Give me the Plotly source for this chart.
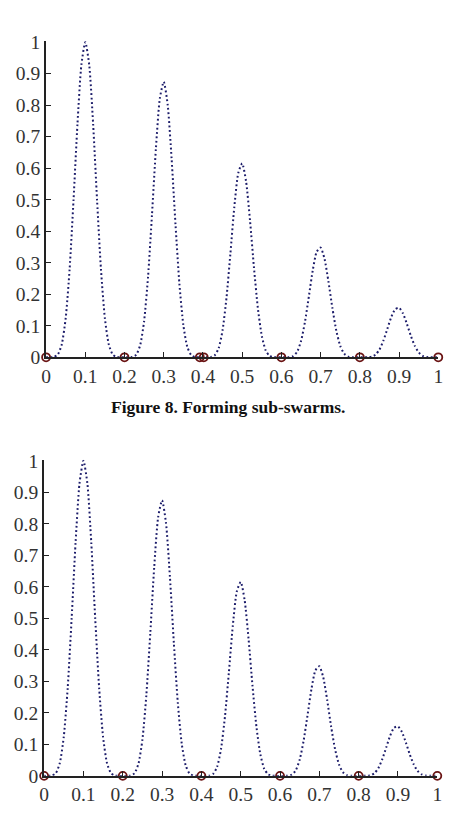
import plotly.graph_objects as go

# x samples (step 0.01) and curve values
x_vals = [round(i * 0.01, 2) for i in range(101)]
y_vals = [
    0.0, 0.0, 0.0009, 0.0088, 0.041, 0.124, 0.279, 0.499, 0.740, 0.928,
    1.000, 0.928, 0.739, 0.498, 0.278, 0.123, 0.040, 0.0085, 0.0008, 0.0,
    0.0, 0.0, 0.0008, 0.0083, 0.0387, 0.115, 0.256, 0.452, 0.662, 0.821,
    0.874, 0.802, 0.631, 0.421, 0.232, 0.102, 0.0332, 0.0070, 0.0007, 0.0,
    0.0, 0.0, 0.0006, 0.0063, 0.0289, 0.086, 0.1889, 0.3298, 0.4774, 0.5847,
    0.615, 0.5573, 0.4337, 0.2853, 0.1558, 0.0677, 0.0217, 0.0045, 0.0004, 0.0,
    0.0, 0.0, 0.0004, 0.0038, 0.0175, 0.0514, 0.1117, 0.1929, 0.2763, 0.3347,
    0.348, 0.3121, 0.2400, 0.1562, 0.0844, 0.0362, 0.0115, 0.0024, 0.0002, 0.0,
    0.0, 0.0, 0.0002, 0.0019, 0.0084, 0.0245, 0.0527, 0.0899, 0.1273, 0.1526,
    0.157, 0.1392, 0.1060, 0.0682, 0.0364, 0.0155, 0.0049, 0.0010, 0.0001, 0.0,
    0.0,
]

# particle positions (sub-swarm centres) on the x axis
swarm_top_x = [0.0, 0.2, 0.392, 0.402, 0.6, 0.8, 1.0]
swarm_top_y = [0, 0, 0, 0, 0, 0, 0]
swarm_bot_x = [0.0, 0.2, 0.4, 0.6, 0.8, 1.0]
swarm_bot_y = [0, 0, 0, 0, 0, 0]

tick_vals = [0, 0.1, 0.2, 0.3, 0.4, 0.5, 0.6, 0.7, 0.8, 0.9, 1.0]
tick_text = ["0", "0.1", "0.2", "0.3", "0.4", "0.5", "0.6", "0.7", "0.8", "0.9", "1"]

caption = "Figure 8. Forming sub-swarms."

curve_color = "#1c1c6a"
ring_color = "#6a1414"
serif = "'Liberation Serif', 'Times New Roman', serif"

fig = go.Figure()

for xa, ya, sx, sy in [("x", "y", swarm_top_x, swarm_top_y),
                       ("x2", "y2", swarm_bot_x, swarm_bot_y)]:
    fig.add_trace(go.Scatter(
        x=x_vals, y=y_vals, xaxis=xa, yaxis=ya, mode="lines",
        line=dict(color=curve_color, width=2.0, dash="1.8px,2.6px", shape="spline", smoothing=0.6),
        showlegend=False, hoverinfo="skip"))
    fig.add_trace(go.Scatter(
        x=sx, y=sy, xaxis=xa, yaxis=ya, mode="markers", cliponaxis=False,
        marker=dict(symbol="circle-open", size=8, color=ring_color, line=dict(width=1.8, color=ring_color)),
        showlegend=False, hoverinfo="skip"))

axis_common = dict(
    range=[0, 1.0], tickmode="array", tickvals=tick_vals, ticktext=tick_text,
    ticks="inside", ticklen=5, tickwidth=1.3, tickcolor="#222",
    showline=True, linecolor="#222", linewidth=2, showgrid=False, zeroline=False,
    tickfont=dict(family=serif, size=19.5, color="#333"), mirror=False,
)

fig.update_layout(
    width=456, height=822, margin=dict(l=0, r=0, t=0, b=0),
    paper_bgcolor="white", plot_bgcolor="white",
    xaxis=dict(axis_common, domain=[0.0921, 0.9715], anchor="y"),
    yaxis=dict(axis_common, domain=[0.5657, 0.9599], anchor="x", range=[0, 1.003]),
    xaxis2=dict(axis_common, domain=[0.0877, 0.9693], anchor="y2"),
    yaxis2=dict(axis_common, domain=[0.0438, 0.4380], anchor="x2", range=[0, 1.003]),
    annotations=[dict(text="<b>" + caption + "</b>", xref="paper", yref="paper",
                      x=0.5, y=1 - 408 / 822, xanchor="center", yanchor="middle",
                      showarrow=False, font=dict(family=serif, size=17.5, color="#111"))],
)

fig.write_html("out.html")
